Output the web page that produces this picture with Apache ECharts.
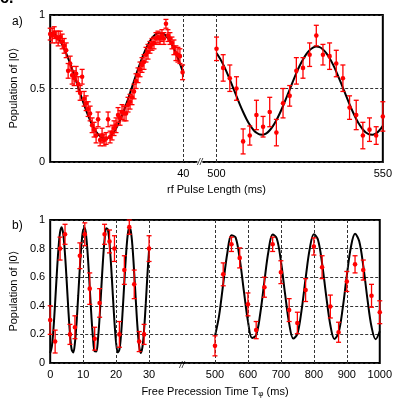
<!DOCTYPE html>
<html><head><meta charset="utf-8">
<script src="https://cdn.jsdelivr.net/npm/echarts@6/dist/echarts.min.js"></script>
<style>html,body{margin:0;padding:0;background:#fff}#c{width:395px;height:399px}</style>
</head><body><div id="c"></div>
<script>
// ---------- Panel a) : rf pulse length (ms) ----------
const aLeftT = [0,0.6,1.2,1.8,2.4,3,3.6,4.2,4.8,5.4,6,6.6,7.2,7.8,8.4,9,9.6,10.2,10.8,11.4,12,12.6,13.2,13.8,14.4,15,15.6,16.2,16.8,17.4,18,18.6,19.2,19.8,20.4,21,21.6,22.2,22.8,23.4,24,24.6,25.2,25.8,26.4,27,27.6,28.2,28.8,29.4,30,30.6,31.2,31.8,32.4,33,33.6,34.2,34.8,35.4,36,36.6,37.2,37.8,38.4,39,39.8];
const aLeftV = [0.87,0.86,0.88,0.85,0.84,0.85,0.82,0.79,0.76,0.62,0.67,0.59,0.57,0.60,0.53,0.47,0.58,0.43,0.40,0.36,0.33,0.25,0.22,0.18,0.29,0.15,0.18,0.15,0.16,0.29,0.17,0.20,0.23,0.25,0.32,0.30,0.34,0.33,0.33,0.39,0.41,0.44,0.48,0.55,0.59,0.63,0.66,0.68,0.73,0.75,0.78,0.80,0.81,0.84,0.85,0.84,0.86,0.84,0.94,0.86,0.84,0.81,0.78,0.74,0.73,0.72,0.61];
const aLeftE = [0.04,0.05,0.04,0.04,0.05,0.04,0.05,0.05,0.05,0.05, 0.05,0.06,0.05,0.05,0.05,0.05,0.05,0.05,0.05,0.05, 0.05,0.05,0.05,0.05,0.05,0.04,0.05,0.04,0.04,0.05, 0.04,0.05,0.05,0.05,0.05,0.05,0.05,0.05,0.05,0.05, 0.05,0.05,0.05,0.05,0.05,0.05,0.05,0.05,0.05,0.05, 0.04,0.04,0.04,0.04,0.04,0.04,0.04,0.04,0.03,0.04, 0.04,0.04,0.05,0.05,0.05,0.05,0.05];
const aRightT = [500,502,504,506,508,510,512,514,516,518,520,522,524,526,528,530,532,534,536,538,540,542,544,546,548,550];
const aRightV = [0.77,0.64,0.57,0.50,0.14,0.18,0.32,0.24,0.34,0.20,0.40,0.45,0.62,0.64,0.73,0.86,0.73,0.72,0.67,0.57,0.37,0.32,0.18,0.22,0.18,0.31];
const aRightE = [0.08,0.09,0.09,0.08,0.085,0.065,0.10,0.07,0.10,0.09,0.10,0.07,0.09,0.07,0.08,0.07,0.07,0.09,0.09,0.09,0.08,0.10,0.09,0.08,0.06,0.10];
// fitted curve
const aCurveLeftT = [0,1,2,3,4,5,6,7,8,9,10,11,12,13,14,15,16,17,18,19,20,21,22,23,24,25,26,27,28,29,30,31,32,33,34,35,36,37,38,39,40];
const aCurveLeftV = [0.88,0.874,0.854,0.823,0.781,0.729,0.669,0.605,0.537,0.469,0.402,0.34,0.284,0.237,0.2,0.175,0.162,0.162,0.175,0.2,0.237,0.284,0.34,0.402,0.469,0.537,0.605,0.669,0.729,0.781,0.823,0.854,0.874,0.88,0.874,0.854,0.823,0.781,0.729,0.669,0.605];
const aCurveRightT = [500,501,502,503,504,505,506,507,508,509,510,511,512,513,514,515,516,517,518,519,520,521,522,523,524,525,526,527,528,529,530,531,532,533,534,535,536,537,538,539,540,541,542,543,544,545,546,547,548,549,550];
const aCurveRightV = [0.741,0.706,0.664,0.615,0.561,0.505,0.448,0.392,0.340,0.293,0.253,0.221,0.199,0.187,0.186,0.195,0.216,0.246,0.284,0.330,0.381,0.436,0.493,0.550,0.605,0.655,0.698,0.734,0.761,0.778,0.785,0.781,0.766,0.741,0.706,0.664,0.615,0.561,0.505,0.448,0.392,0.340,0.293,0.253,0.221,0.199,0.187,0.186,0.195,0.216,0.246];
const aXTicks = [40, 500, 550];
const aVLines = [40, 500];
const aYTicks = [0, 0.5, 1];

// ---------- Panel b) : free precession time (ms) ----------
const bLeftT = [0,1.5,3,4.5,6,7.5,9,10.5,12,13.5,15,16.5,18,19.5,21,22.5,24,25.5,27,28.5,30];
const bLeftV = [0.30,0.15,0.80,0.90,0.20,0.25,0.75,0.90,0.52,0.17,0.42,0.90,0.85,0.80,0.20,0.65,0.95,0.55,0.15,0.20,0.80];
const bLeftE = [0.10,0.08,0.08,0.07,0.07,0.08,0.09,0.08,0.11,0.08,0.10,0.07,0.08,0.09,0.09,0.10,0.05,0.10,0.07,0.07,0.09];
const bRightT = [500,525,550,575,600,625,650,675,700,725,750,775,800,825,850,875,900,925,950,975,1000];
const bRightV = [0.12,0.62,0.83,0.735,0.41,0.23,0.53,0.83,0.635,0.37,0.28,0.51,0.815,0.67,0.395,0.215,0.57,0.69,0.65,0.47,0.355];
const bRightE = [0.07,0.08,0.05,0.07,0.08,0.06,0.07,0.05,0.08,0.08,0.075,0.08,0.06,0.08,0.08,0.07,0.07,0.06,0.07,0.08,0.08];
const bCurveLeftT = [0,0.5,1,1.5,2,2.5,3,3.5,4,4.5,5,5.5,6,6.5,7,7.5,8,8.5,9,9.5,10,10.5,11,11.5,12,12.5,13,13.5,14,14.5,15,15.5,16,16.5,17,17.5,18,18.5,19,19.5,20,20.5,21,21.5,22,22.5,23,23.5,24,24.5,25,25.5,26,26.5,27,27.5,28,28.5,29,29.5,30];
const bCurveLeftV = [0.07,0.115,0.241,0.422,0.621,0.797,0.915,0.949,0.894,0.760,0.574,0.376,0.205,0.096,0.073,0.139,0.281,0.469,0.667,0.832,0.931,0.944,0.868,0.719,0.526,0.330,0.172,0.082,0.081,0.167,0.323,0.518,0.711,0.863,0.943,0.934,0.837,0.674,0.478,0.287,0.143,0.074,0.094,0.199,0.368,0.567,0.753,0.890,0.949,0.918,0.803,0.628,0.429,0.247,0.118,0.070,0.112,0.235,0.415,0.615,0.792];
const bCurveRightT = [500,512.5,525,537.5,550,562.5,575,587.5,600,612.5,625,637.5,650,662.5,675,687.5,700,712.5,725,737.5,750,762.5,775,787.5,800,812.5,825,837.5,850,862.5,875,887.5,900,912.5,925,937.5,950,962.5,975,987.5,1000];
const bCurveRightV = [0.188,0.331,0.554,0.769,0.893,0.878,0.730,0.507,0.294,0.175,0.195,0.348,0.573,0.784,0.898,0.871,0.714,0.487,0.279,0.171,0.203,0.365,0.592,0.798,0.901,0.862,0.697,0.468,0.266,0.168,0.212,0.382,0.611,0.811,0.903,0.853,0.679,0.449,0.253,0.166,0.222];
const bXTicks = [0,10,20,30,500,600,700,800,900,1000];
const bVLines = [10,20,30,500,600,700,800,900];
const bYTicks = [0,0.2,0.4,0.6,0.8,1];

// ---------- broken-axis mappings ----------
function mapA(t){ return t <= 40 ? t : t - 450; }      // 0..40 | gap | 500..550
function mapB(t){ return t <= 30 ? t / 10 : t / 100; } // 0..30 | gap | 500..1000

const RED = '#ff0000';
const FONT = '"Liberation Sans", Arial, Helvetica, sans-serif';

function errSeries(T, V, E, map, idx){
  return {
    type: 'custom', xAxisIndex: idx, yAxisIndex: idx, z: 5, silent: true, animation: false,
    data: T.map((t,i) => [map(t), V[i], V[i]-E[i], V[i]+E[i]]),
    encode: { x: 0, y: [1,2,3] },
    renderItem: function(params, api){
      const x = api.value(0);
      const p = api.coord([x, api.value(1)]);
      const lo = api.coord([x, api.value(2)]);
      const hi = api.coord([x, api.value(3)]);
      const c = 2.5;
      const st = { stroke: RED, lineWidth: 1.3 };
      return { type: 'group', children: [
        { type: 'line', shape: { x1: p[0], y1: lo[1], x2: p[0], y2: hi[1] }, style: st },
        { type: 'line', shape: { x1: p[0]-c, y1: lo[1], x2: p[0]+c, y2: lo[1] }, style: st },
        { type: 'line', shape: { x1: p[0]-c, y1: hi[1], x2: p[0]+c, y2: hi[1] }, style: st },
        { type: 'circle', shape: { cx: p[0], cy: p[1], r: 2.3 }, style: { fill: RED } }
      ]};
    }
  };
}
function curveSeries(T, V, map, idx, vlines){
  const s = {
    type: 'line', xAxisIndex: idx, yAxisIndex: idx, z: 3, silent: true, animation: false,
    data: T.map((t,i) => [map(t), V[i]]),
    showSymbol: false, symbol: 'none', smooth: 0.35,
    lineStyle: { color: '#000', width: 2 }
  };
  if (vlines) {
    s.markLine = {
      silent: true, animation: false, symbol: ['none','none'], label: { show: false },
      lineStyle: { type: [3,2], color: '#333', width: 1 },
      data: vlines.map(t => ({ xAxis: map(t) }))
    };
  }
  return s;
}
function labelMap(ticks, map){
  const m = {};
  ticks.forEach(t => { m[Math.round(map(t)*1000)] = String(t); });
  return v => { const k = Math.round(v*1000); return (k in m) ? m[k] : ''; };
}

const tickText = { fontSize: 11, color: '#000', fontFamily: FONT };
const nameText = { fontSize: 11, color: '#000', fontFamily: FONT };
const dashed = { show: true, lineStyle: { type: [3,2], color: '#333', width: 1 } };

const chart = echarts.init(document.getElementById('c'), null, { renderer: 'canvas' });
chart.setOption({
  animation: false,
  grid: [
    { left: 47, top: 15, width: 337, height: 147, show: true, borderColor: '#000', borderWidth: 2, backgroundColor: 'transparent', containLabel: false },
    { left: 46, top: 220, width: 338, height: 149, show: true, borderColor: '#000', borderWidth: 2, backgroundColor: 'transparent', containLabel: false }
  ],
  xAxis: [
    { gridIndex: 0, type: 'value', min: 0, max: 100, interval: 10,
      axisLine: { show: false }, axisTick: { show: false }, splitLine: { show: false },
      axisLabel: Object.assign({ margin: 6, showMinLabel: true, showMaxLabel: true, formatter: labelMap(aXTicks, mapA) }, tickText),
      name: 'rf Pulse Length (ms)', nameLocation: 'middle', nameGap: 22, nameTextStyle: nameText },
    { gridIndex: 1, type: 'value', min: 0, max: 10, interval: 1,
      axisLine: { show: false }, axisTick: { show: false }, splitLine: { show: false },
      axisLabel: Object.assign({ margin: 6, showMinLabel: true, showMaxLabel: true, formatter: labelMap(bXTicks, mapB) }, tickText),
      name: 'Free Precession Time T{s|φ} (ms)', nameLocation: 'middle', nameGap: 22,
      nameTextStyle: Object.assign({ rich: { s: { fontSize: 8, fontFamily: FONT, color: '#000', padding: [5,0,0,0] } } }, nameText) }
  ],
  yAxis: [
    { gridIndex: 0, type: 'value', min: 0, max: 1, interval: 0.5,
      axisLine: { show: false }, axisTick: { show: false }, splitLine: dashed,
      axisLabel: Object.assign({ margin: 5, formatter: v => String(Math.round(v*10)/10) }, tickText),
      name: 'Population of |0\u27E9', nameLocation: 'middle', nameGap: 27, nameRotate: 90, nameTextStyle: nameText },
    { gridIndex: 1, type: 'value', min: 0, max: 1, interval: 0.2,
      axisLine: { show: false }, axisTick: { show: false }, splitLine: dashed,
      axisLabel: Object.assign({ margin: 5, formatter: v => String(Math.round(v*10)/10) }, tickText),
      name: 'Population of |0\u27E9', nameLocation: 'middle', nameGap: 27, nameRotate: 90, nameTextStyle: nameText }
  ],
  series: [
    curveSeries(aCurveLeftT, aCurveLeftV, mapA, 0, aVLines),
    curveSeries(aCurveRightT, aCurveRightV, mapA, 0),
    errSeries(aLeftT, aLeftV, aLeftE, mapA, 0),
    errSeries(aRightT, aRightV, aRightE, mapA, 0),
    curveSeries(bCurveLeftT, bCurveLeftV, mapB, 1, bVLines),
    curveSeries(bCurveRightT, bCurveRightV, mapB, 1),
    errSeries(bLeftT, bLeftV, bLeftE, mapB, 1),
    errSeries(bRightT, bRightV, bRightE, mapB, 1)
  ]
});

// break markers "//" at the middle of each axis gap, placed through the axis scales
const gA = chart.convertToPixel({ xAxisIndex: 0, yAxisIndex: 0 }, [(mapA(40)+mapA(500))/2, 0]);
const gB = chart.convertToPixel({ xAxisIndex: 1, yAxisIndex: 1 }, [(mapB(30)+mapB(500))/2, 0]);
chart.setOption({
  graphic: [
    { type: 'text', left: 0, top: -9, style: { text: 'c.', font: 'bold 16px ' + FONT, fill: '#000' } },
    { type: 'text', left: 12, top: 16, style: { text: 'a)', font: '12px ' + FONT, fill: '#000' } },
    { type: 'text', left: 12, top: 220, style: { text: 'b)', font: '12px ' + FONT, fill: '#000' } },
    { type: 'text', x: gA[0], y: gA[1], z: 10, style: { text: '//', font: 'italic 9px ' + FONT, fill: '#000', align: 'center', verticalAlign: 'middle', backgroundColor: '#fff' } },
    { type: 'text', x: gB[0], y: gB[1] + 2, z: 10, style: { text: '//', font: 'italic 9px ' + FONT, fill: '#000', align: 'center', verticalAlign: 'middle' } }
  ]
});
</script>
</body></html>
